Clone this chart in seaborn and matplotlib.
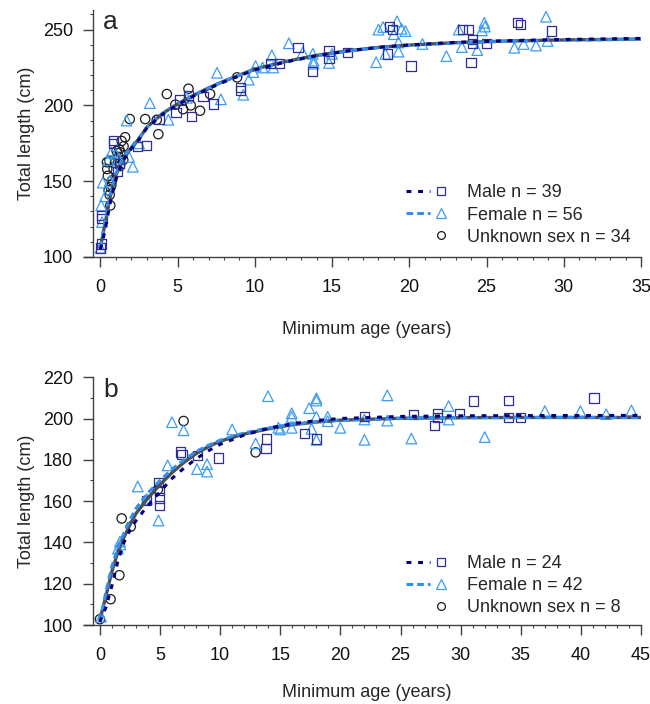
import matplotlib
matplotlib.use("Agg")
import matplotlib.pyplot as plt
import seaborn as sns
from matplotlib.lines import Line2D
from matplotlib.legend_handler import HandlerTuple
from matplotlib.ticker import MultipleLocator

# ---- panel a: observed lengths ----
a_male_age = [0.0, 0.05, 0.05, 0.1, 0.83, 0.83, 1.1, 1.25, 2.4, 3.0, 3.8, 4.9, 5.15, 5.7,
              5.9, 6.65, 7.3, 9.05, 9.05, 11.0, 11.6, 12.8, 13.75, 14.8, 14.8, 16.0, 18.6,
              18.7, 18.9, 20.1, 23.45, 23.85, 24.0, 24.1, 24.1, 25.0, 27.0, 27.2, 29.2]
a_male_len = [106, 108.5, 127.5, 125.5, 177, 175, 156.5, 161.5, 173, 173.5, 190.5, 195.5,
              203.5, 206.5, 192.5, 206, 201, 212, 210, 227.5, 227.5, 238, 222.5, 236, 231,
              235, 234, 252, 250, 226, 250, 250, 228.5, 243.5, 241, 241, 254.5, 253.5, 249]

a_female_age = [0.0, 0.05, 0.1, 0.15, 0.3, 0.5, 0.6, 0.7, 1.0, 1.2, 1.7, 1.85, 2.1, 2.5, 3.2,
                4.4, 5.6, 7.55, 7.8, 9.25, 9.6, 9.9, 10.05, 10.5, 11.1, 11.2, 12.2, 13.1,
                13.75, 13.8, 13.8, 14.8, 15.0, 17.85, 18.0, 18.3, 18.45, 19.0, 19.2, 19.3,
                19.3, 19.5, 19.75, 20.85, 22.4, 23.2, 23.4, 24.4, 24.7, 24.85, 24.9, 26.8,
                27.4, 28.2, 28.85, 28.95]
a_female_len = [106, 134, 123, 149, 140, 164, 150, 169, 168, 165, 190, 166, 159.5, 175, 201.5,
                190.5, 205, 221.5, 204, 207, 217, 222, 226, 225, 233, 225, 241, 235, 234,
                229.5, 227.5, 228, 234, 228.5, 250, 251.7, 234, 247, 255.5, 241.5, 235.5,
                250.5, 249, 240.5, 232.5, 250, 238.5, 236.5, 249.5, 254.5, 252, 238, 240.5,
                239.5, 258.5, 242.5]

a_unk_age = [0.42, 0.44, 0.48, 0.53, 0.57, 0.6, 0.64, 0.66, 0.71, 0.75, 0.86, 0.94, 0.96,
             1.05, 1.18, 1.22, 1.27, 1.29, 1.37, 1.48, 1.5, 1.6, 1.9, 2.9, 3.65, 3.75, 4.3,
             4.85, 5.35, 5.7, 5.85, 6.45, 7.1, 8.85]
a_unk_len = [162.5, 158, 153.5, 144, 163.5, 141, 134, 146, 147.5, 150.5, 158, 162, 164.5,
             170, 166, 171, 160, 169, 176.5, 164, 173, 179, 191, 191, 190.5, 181, 207.5,
             200.5, 197.5, 211, 200, 196.5, 207.5, 218.5]

# ---- panel a: fitted curves ----
a_fit_age = [0, 0.2, 0.4, 0.6, 0.8, 1.0, 1.25, 1.5, 2, 2.5, 3, 4, 5, 6, 7, 8, 9, 10, 12, 14,
             16, 18, 20, 23, 26, 30, 35]
a_fit_all = [106, 117, 127, 138, 147, 154, 160, 165, 172, 178, 185.5, 194.5, 201, 206.5,
             211.5, 216, 220, 224, 229, 233, 236, 238.3, 239.8, 241.4, 242.4, 243.2, 243.8]
a_fit_male = [105, 113, 123, 134, 143, 151, 158, 164, 171.5, 177.5, 185, 194, 200.5, 206,
              211, 215.5, 219.5, 223.5, 228.7, 232.8, 235.9, 238.3, 239.9, 241.6, 242.6,
              243.5, 244.2]
a_fit_female = [106, 118, 128, 139, 148, 155, 161, 166, 172.5, 178.5, 185.5, 194.5, 201,
                206.5, 211.5, 216, 220, 223.8, 228.8, 232.8, 235.8, 238.1, 239.6, 241.2,
                242.2, 243, 243.6]

# ---- panel b: observed lengths ----
b_male_age = [3.9, 4.87, 4.95, 4.95, 4.95, 6.68, 6.82, 8.13, 9.88, 13.8, 13.84, 17.0, 18.0,
              22.0, 26.1, 27.85, 28.06, 28.06, 29.9, 31.05, 34.0, 34.0, 35.0, 41.1]
b_male_len = [160.3, 169, 165.2, 161.5, 157.8, 183.8, 182.5, 182.2, 180.8, 185.4, 190.1,
              192.6, 190.1, 201.1, 201.9, 196.7, 202.5, 200.4, 202.5, 208.4, 208.7, 200.4,
              200.4, 210]

b_female_age = [0.1, 1.5, 1.67, 3.15, 3.9, 4.87, 5.63, 5.99, 6.96, 8.07, 8.91, 8.91, 11.0,
                12.95, 13.98, 14.84, 15.0, 15.95, 15.95, 15.95, 17.4, 17.6, 18.0, 18.0, 18.0,
                18.0, 18.94, 18.94, 19.99, 22.0, 22.0, 23.9, 23.9, 25.9, 29.0, 29.0, 32.0,
                37.0, 39.96, 42.1, 44.2, 1.7]
b_female_len = [104, 137, 140.4, 167.1, 161, 150.6, 177.3, 198.2, 194.3, 175.5, 177.9, 174.3,
                194.7, 187.9, 210.8, 195.5, 194.7, 202.5, 200.8, 195.5, 205, 195, 209.8,
                208.7, 200.8, 189.7, 200.8, 198.7, 195.5, 189.7, 199.5, 211.2, 199, 190.3,
                206, 199.5, 191, 203.6, 203.6, 202.1, 203.9, 139]

b_unk_age = [0.0, 0.89, 1.62, 1.81, 2.56, 4.82, 6.96, 12.95]
b_unk_len = [102.8, 112.5, 124.1, 151.6, 147.6, 165.6, 198.8, 183.6]

# ---- panel b: fitted curves ----
b_fit_age = [0, 0.5, 1, 1.5, 2, 2.5, 3, 4, 5, 6, 7, 8, 9, 10, 12, 14, 16, 18, 20, 25, 30,
             35, 45]
b_fit_all = [102.4, 114, 126, 135.5, 142.5, 148.5, 154, 161.5, 168, 173.8, 178.8, 183,
             186.3, 189, 192.5, 195, 197, 198.3, 199.2, 200.1, 200.4, 200.5, 200.5]
b_fit_male = [101.5, 108.5, 119, 131, 140, 146, 150.5, 158, 164.5, 171, 176, 180.5, 184.3,
              187.5, 192, 195.3, 197.5, 199, 200, 201, 201.3, 201.4, 201.5]
b_fit_female = [102, 116, 128.5, 137.5, 144.5, 151, 156.5, 164, 170, 175.5, 180, 184, 187,
                189.5, 193, 195.4, 197.2, 198.4, 199.2, 200.1, 200.4, 200.5, 200.5]

male_label_a, female_label_a, unk_label_a = "Male n = 39", "Female n = 56", "Unknown sex n = 34"
male_label_b, female_label_b, unk_label_b = "Male n = 24", "Female n = 42", "Unknown sex n = 8"

# colours / styles
SQ_COL = "#2d2d9c"
TRI_COL = "#3c9cf5"
CIR_COL = "#1a1a1a"
MALE_LINE = "#00007a"
FEMALE_LINE = "#2f8ff5"
ALL_LINE = "#4f4f4f"
MALE_LS = (0, (1.6, 2.2))
FEMALE_LS = (0, (2.2, 1.3))

sns.set_theme(style="ticks")
plt.rcParams["font.family"] = ["Liberation Sans", "DejaVu Sans"]

fig = plt.figure(figsize=(6.5, 7.04), dpi=100)
ax_a = fig.add_axes([0.1426, 0.635, 0.8436, 0.3509])
ax_b = fig.add_axes([0.1426, 0.1122, 0.8436, 0.352])


def draw_panel(ax, m_age, m_len, f_age, f_len, u_age, u_len,
               fit_age, fit_all, fit_m, fit_f, labels, leg_y, xpad):
    sns.scatterplot(x=u_age, y=u_len, ax=ax, marker="o", s=45, facecolor="none",
                    edgecolor=CIR_COL, linewidth=0.9, zorder=1)
    sns.scatterplot(x=f_age, y=f_len, ax=ax, marker="^", s=58, facecolor="none",
                    edgecolor=TRI_COL, linewidth=0.9, zorder=1)
    sns.scatterplot(x=m_age, y=m_len, ax=ax, marker="s", s=45, facecolor="none",
                    edgecolor=SQ_COL, linewidth=0.9, zorder=1)
    sns.lineplot(x=fit_age, y=fit_all, ax=ax, color=ALL_LINE, lw=2.4,
                 estimator=None, sort=False, zorder=3)
    sns.lineplot(x=fit_age, y=fit_f, ax=ax, color=FEMALE_LINE, lw=2.2, linestyle=FEMALE_LS,
                 estimator=None, sort=False, zorder=4)
    sns.lineplot(x=fit_age, y=fit_m, ax=ax, color=MALE_LINE, lw=2.2, linestyle=MALE_LS,
                 estimator=None, sort=False, zorder=5)

    h_m = (Line2D([], [], color=MALE_LINE, lw=2.2, ls=MALE_LS),
           Line2D([], [], ls="none", marker="s", ms=5.8, mfc="none", mec=SQ_COL, mew=0.9))
    h_f = (Line2D([], [], color=FEMALE_LINE, lw=2.2, ls=FEMALE_LS),
           Line2D([], [], ls="none", marker="^", ms=7.8, mfc="none", mec=TRI_COL, mew=0.9))
    h_u = (Line2D([], [], color="none"),
           Line2D([], [], ls="none", marker="o", ms=5.6, mfc="none", mec=CIR_COL, mew=0.9))
    ax.legend([h_m, h_f, h_u], labels, handler_map={tuple: HandlerTuple(ndivide=None, pad=0)},
              loc="upper left", bbox_to_anchor=(0.555, leg_y), frameon=False, fontsize=13,
              borderpad=0, labelspacing=0.28, handlelength=2.6, handletextpad=0.8)

    ax.set_xlabel("Minimum age (years)", fontsize=13, labelpad=xpad)
    ax.set_ylabel("Total length (cm)", fontsize=13, labelpad=6)
    ax.xaxis.set_major_locator(MultipleLocator(5))
    ax.xaxis.set_minor_locator(MultipleLocator(1))
    ax.yaxis.set_minor_locator(MultipleLocator(10))
    ax.tick_params(which="major", length=7, width=1, color="#404040", labelsize=13,
                   labelcolor="#111111")
    ax.tick_params(axis="x", which="major", pad=9)
    ax.tick_params(axis="y", which="major", pad=7)
    ax.tick_params(which="minor", length=2.5, width=0.8, color="#404040")
    for side in ("left", "bottom"):
        ax.spines[side].set_color("#404040")
        ax.spines[side].set_linewidth(1)
    sns.despine(ax=ax)


draw_panel(ax_a, a_male_age, a_male_len, a_female_age, a_female_len, a_unk_age, a_unk_len,
           a_fit_age, a_fit_all, a_fit_male, a_fit_female,
           [male_label_a, female_label_a, unk_label_a], 0.330, 18)
ax_a.set_xlim(-0.5, 35)
ax_a.set_ylim(100, 263)
ax_a.yaxis.set_major_locator(MultipleLocator(50))
ax_a.spines["bottom"].set_bounds(-1.08, 35)
ax_a.text(0.019, 0.953, "a", transform=ax_a.transAxes, fontsize=19, ha="left", va="center")

draw_panel(ax_b, b_male_age, b_male_len, b_female_age, b_female_len, b_unk_age, b_unk_len,
           b_fit_age, b_fit_all, b_fit_male, b_fit_female,
           [male_label_b, female_label_b, unk_label_b], 0.318, 14)
ax_b.set_xlim(-0.6, 45)
ax_b.set_ylim(100, 220)
ax_b.yaxis.set_major_locator(MultipleLocator(20))
ax_b.spines["bottom"].set_bounds(-1.35, 45)
ax_b.text(0.019, 0.949, "b", transform=ax_b.transAxes, fontsize=19, ha="left", va="center")

fig.savefig("out.png", dpi=100)
